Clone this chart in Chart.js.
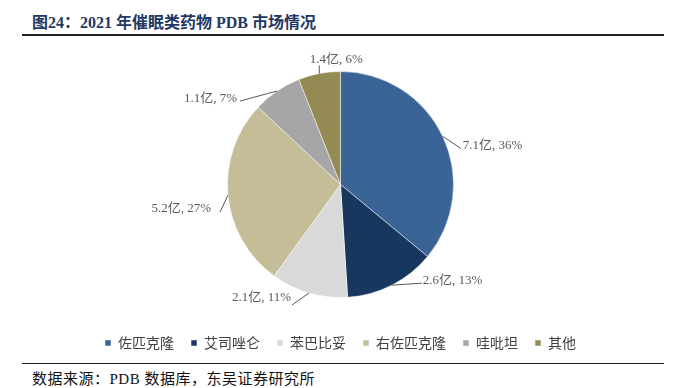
<!DOCTYPE html>
<html>
<head>
<meta charset="utf-8">
<script src="https://cdn.jsdelivr.net/npm/chart.js@4"></script>
<style>
  body { margin: 0; width: 686px; height: 388px; background: #fff; position: relative; overflow: hidden; }
  #title { position: absolute; left: 32px; top: 9px; font: bold 16px "Liberation Serif", "Noto Sans CJK SC", serif; color: #1F3864; }
  #topLine { position: absolute; left: 22px; top: 34px; width: 642px; height: 2px; background: #222; }
  #bottomLine { position: absolute; left: 22px; top: 363px; width: 642px; height: 1px; background: #222; }
  #source { position: absolute; left: 32px; top: 367px; font: 15px "Liberation Serif", "Noto Sans CJK SC", serif; color: #111; letter-spacing: 0.5px; }
  #wrap { position: absolute; left: 0; top: 40px; width: 686px; height: 320px; }
</style>
</head>
<body>
<div id="title">图24：2021 年催眠类药物 PDB 市场情况</div>
<div id="topLine"></div>
<div id="wrap"><canvas id="pie"></canvas></div>
<div id="bottomLine"></div>
<div id="source">数据来源：PDB 数据库，东吴证券研究所</div>
<script>
// data
const drugs = ['佐匹克隆', '艾司唑仑', '苯巴比妥', '右佐匹克隆', '哇吡坦', '其他'];
const sales = [7.1, 2.6, 2.1, 5.2, 1.1, 1.4];   // 亿
const shares = [36, 13, 11, 27, 7, 6];          // %
const colors = ['#3B6496', '#17375E', '#D9D9D9', '#C4BD97', '#A6A6A6', '#948A54'];

// leader line end relative to the arc's edge midpoint, then text align + offset from line end
const leader = [[18, 12], [30, -2], [-17, 12], [-8, 17], [-37, 10], [0, -8]];
const textAlign = ['left', 'left', 'right', 'right', 'right', 'center'];
const textShift = [[2, -3], [1, -3], [-1, -7], [-9, -4], [-3, -2], [17, -6]];

const labelPlugin = {
    id: 'pieLabels',
    afterDatasetsDraw(chart) {
        const ctx = chart.ctx;
        const arcs = chart.getDatasetMeta(0).data;
        ctx.save();
        ctx.font = '13px "Liberation Serif", "Noto Sans CJK SC", serif';
        ctx.fillStyle = '#595959';
        ctx.strokeStyle = '#595959';
        ctx.lineWidth = 1;
        ctx.textBaseline = 'middle';
        arcs.forEach((arc, i) => {
            const p = arc.getProps(['x', 'y', 'startAngle', 'endAngle', 'outerRadius'], true);
            const mid = (p.startAngle + p.endAngle) / 2;
            const x0 = p.x + Math.cos(mid) * p.outerRadius;
            const y0 = p.y + Math.sin(mid) * p.outerRadius;
            const x1 = x0 + leader[i][0], y1 = y0 + leader[i][1];
            ctx.beginPath();
            ctx.moveTo(x0, y0);
            ctx.lineTo(x1, y1);
            ctx.stroke();
            ctx.textAlign = textAlign[i];
            ctx.fillText(sales[i] + '亿, ' + shares[i] + '%', x1 + textShift[i][0], y1 + textShift[i][1]);
        });
        ctx.restore();
    }
};

new Chart(document.getElementById('pie'), {
    type: 'pie',
    data: {
        labels: drugs,
        datasets: [{ data: shares, backgroundColor: colors, borderColor: '#fff', borderWidth: 0.5, radius: 113 }]
    },
    options: {
        responsive: true,
        maintainAspectRatio: false,
        animation: false,
        layout: { padding: { top: 10, bottom: 0, right: 5 } },
        plugins: {
            tooltip: { enabled: false },
            legend: {
                position: 'bottom',
                labels: {
                    boxWidth: 6, boxHeight: 6, padding: 17,
                    color: '#404040',
                    font: { size: 14, family: '"Noto Sans CJK SC", sans-serif' }
                }
            }
        }
    },
    plugins: [labelPlugin]
});
</script>
</body>
</html>
